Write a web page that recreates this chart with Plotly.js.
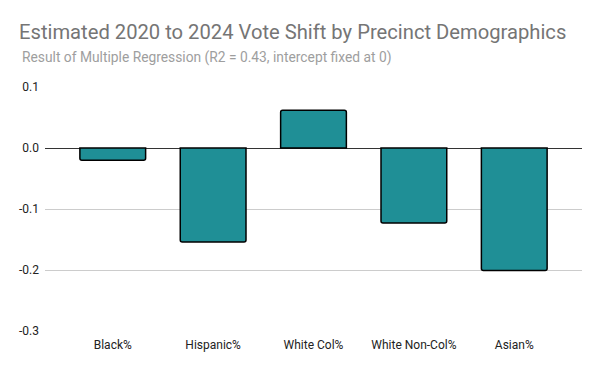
<!DOCTYPE html>
<html>
<head>
<meta charset="utf-8">
<script src="https://cdn.plot.ly/plotly-3.0.1.min.js"></script>
<style>html,body{margin:0;padding:0;background:#fff;}#chart{width:600px;height:371px;}</style>
</head>
<body>
<div id="chart"></div>
<script>
const categories = ["Black%", "Hispanic%", "White Col%", "White Non-Col%", "Asian%"];
const shiftValues = [-0.020, -0.154, 0.062, -0.123, -0.201];
const yTickValues = [-0.3, -0.2, -0.1, 0.0, 0.1];
const yTickLabels = ["-0.3", "-0.2", "-0.1", "0.0", "0.1"];
const chartTitle = "Estimated 2020 to 2024 Vote Shift by Precinct Demographics";
const chartSubtitle = "Result of Multiple Regression (R2 = 0.43, intercept fixed at 0)";

const trace = {
  type: "bar",
  x: categories,
  y: shiftValues,
  width: 0.655,
  marker: {
    color: "#1f8f96",
    line: {color: "#000000", width: 1.5},
    cornerradius: 2
  },
  hoverinfo: "x+y"
};

const layout = {
  width: 600,
  height: 371,
  margin: {l: 45, r: 18, t: 87, b: 40},
  paper_bgcolor: "#ffffff",
  plot_bgcolor: "#ffffff",
  font: {family: "Roboto, Arial, sans-serif", size: 12, color: "#222222"},
  showlegend: false,
  title: {
    text: chartTitle,
    font: {family: "Roboto, Arial, sans-serif", size: 20.2, color: "#757575"},
    xref: "container", yref: "container",
    x: 19/600, xanchor: "left",
    y: 1 - 31.5/371, yanchor: "middle"
  },
  annotations: [{
    text: chartSubtitle,
    xref: "paper", yref: "paper",
    x: (20 - 45) / 537, xanchor: "left",
    y: (331 - 58) / 244, yanchor: "middle",
    showarrow: false,
    font: {family: "Roboto, Arial, sans-serif", size: 13.8, color: "#9e9e9e"}
  }],
  xaxis: {
    type: "category",
    range: [-0.675, 4.675],
    showgrid: false,
    showline: false,
    zeroline: false,
    ticks: "",
    ticklabelstandoff: 5,
    tickfont: {size: 12, color: "#222222"}
  },
  yaxis: {
    range: [-0.3, 0.1],
    tickvals: yTickValues,
    ticktext: yTickLabels,
    showgrid: true,
    gridcolor: "#cccccc",
    gridwidth: 1,
    zeroline: true,
    zerolinecolor: "#333333",
    zerolinewidth: 1,
    showline: false,
    ticks: "",
    ticklabelstandoff: 5,
    tickfont: {size: 12, color: "#222222"}
  }
};

Plotly.newPlot("chart", [trace], layout, {displayModeBar: false, staticPlot: true});
</script>
</body>
</html>
